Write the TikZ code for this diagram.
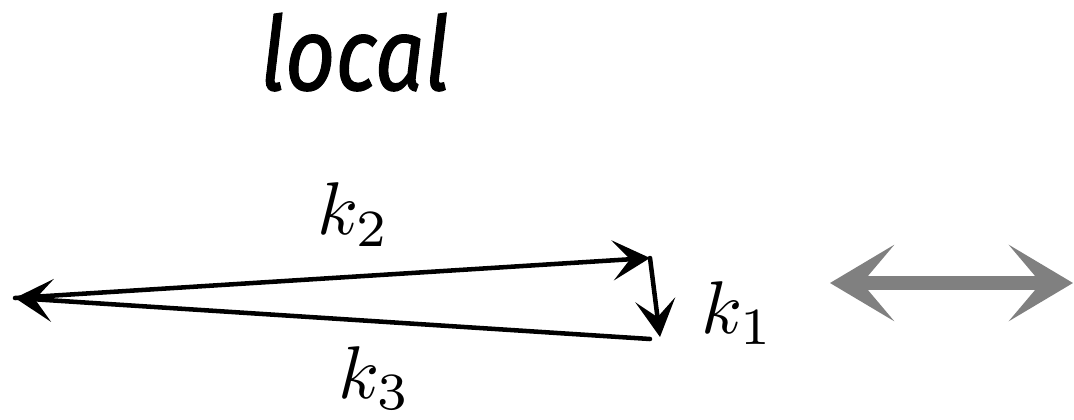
\documentclass[tikz,border=0pt]{standalone}
\usepackage{fontspec}
\newfontfamily\titlefont{Fira Sans}[FakeBold=1.2]
\usetikzlibrary{arrows.meta}
\begin{document}
\begin{tikzpicture}[x=0.75pt,y=-0.75pt,
  vec/.style={line width=3.4pt,black,line cap=round,
    -{Stealth[length=28pt,width=30pt,inset=13pt]}},
  vecl/.style={line width=3.4pt,black,line cap=round,
    {Stealth[length=28pt,width=32pt,inset=13pt]}-},
  dbl/.style={line width=11pt,color=black!50,
    {Stealth[length=48pt,width=57pt,inset=24pt]}-{Stealth[length=48pt,width=57pt,inset=24pt]}},
  lab/.style={inner sep=0pt,anchor=base,scale=5.6}]
\useasboundingbox (0,0) rectangle (1074,420);
\node[inner sep=0pt,anchor=base,xscale=0.85,font=\titlefont\itshape\fontsize{77}{80}\selectfont] (title) at (355,90) {local};
\coordinate (A) at (15,298);
\coordinate (B) at (650,258);
\coordinate (C) at (660,337);
\coordinate (D) at (650,339);
\draw[vec] (A) -- (B);
\draw[vecl] (A) -- (D);
\draw[vec] (B) -- (C);
\node[lab] (k2) at (354,235) {$k_2$};
\node[lab] (k3) at (375,398) {$k_3$};
\node[lab] (k1) at (738,333) {$k_1$};
\coordinate (G1) at (830,283);
\coordinate (G2) at (1073,283);
\draw[dbl] (G1) -- (G2);
\end{tikzpicture}
\end{document}
